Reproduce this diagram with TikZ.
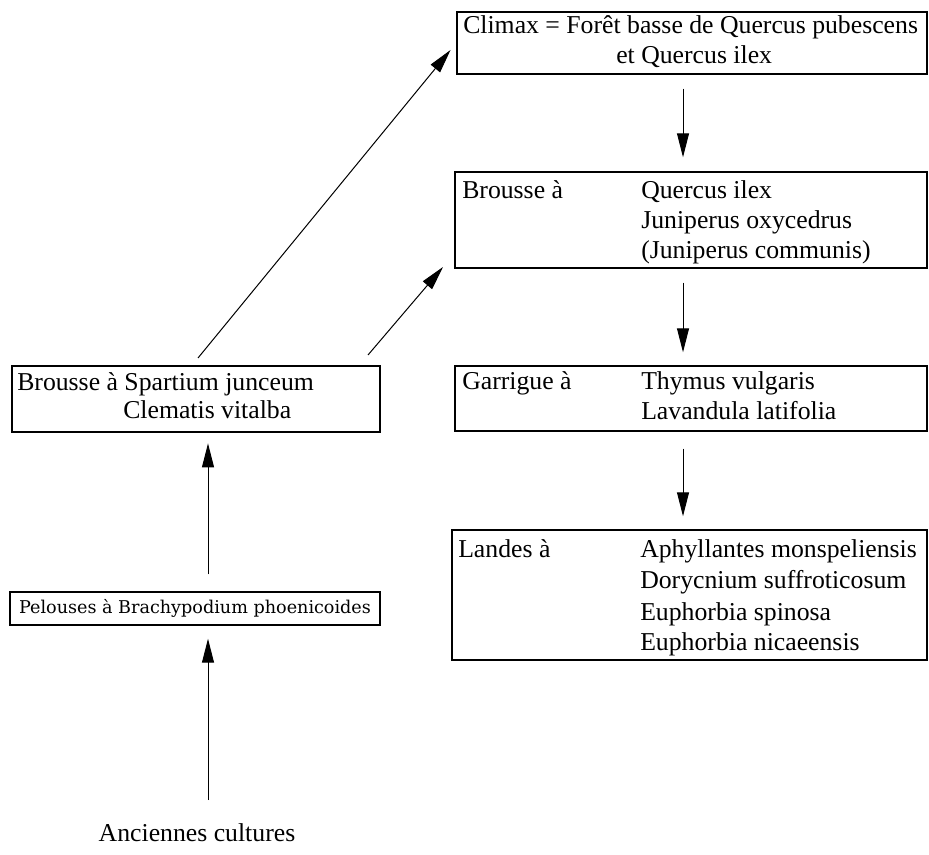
\documentclass[tikz,border=0pt]{standalone}
\usepackage{fontspec}
\setmainfont{Liberation Serif}
\newfontfamily\pelfont{DejaVu Serif}
\usetikzlibrary{arrows.meta}
\tikzset{
  box/.style={draw, line width=1.1pt, rectangle, inner sep=0pt},
  txt/.style={anchor=base west, inner sep=0pt, font=\fontsize{19.3}{23}\selectfont},
  arr/.style={line width=0.75pt, -{Triangle[length=18pt,width=9pt]}},
}
\begin{document}
\begin{tikzpicture}[x=0.75pt,y=-0.75pt]
\useasboundingbox (0,0) rectangle (929,855);
% boxes
\node[box, minimum width=352.5pt, minimum height=46.5pt] (climax) at (692,43) {};
\node[box, minimum width=354pt, minimum height=72pt] (bq) at (691,220) {};
\node[box, minimum width=354pt, minimum height=48.75pt] (garr) at (691,398.5) {};
\node[box, minimum width=356.25pt, minimum height=97.5pt] (landes) at (689.5,595) {};
\node[box, minimum width=276pt, minimum height=49.5pt] (spart) at (196,399) {};
\node[box, minimum width=277.5pt, minimum height=24.75pt, font=\pelfont\fontsize{13.2}{15}\selectfont] (pel) at (195,608.5) {Pelouses à Brachypodium phoenicoides};
% texts
\node[txt] (c1) at (463,34) {Climax = Forêt basse de Quercus pubescens};
\node[txt] (c2) at (616,64) {et Quercus ilex};
\node[txt] (b0) at (462,199) {Brousse à};
\node[txt] (b1) at (641,199) {Quercus ilex};
\node[txt] (b2) at (641,229) {Juniperus oxycedrus};
\node[txt] (b3) at (641,259) {(Juniperus communis)};
\node[txt] (g0) at (462,390) {Garrigue à};
\node[txt] (g1) at (641,390) {Thymus vulgaris};
\node[txt] (g2) at (641,420) {Lavandula latifolia};
\node[txt] (l0) at (458,558) {Landes à};
\node[txt] (l1) at (640,558) {Aphyllantes monspeliensis};
\node[txt] (l2) at (640,589) {Dorycnium suffroticosum};
\node[txt] (l3) at (640,620) {Euphorbia spinosa};
\node[txt] (l4) at (640,651) {Euphorbia nicaeensis};
\node[txt] (s1) at (17,391) {Brousse à Spartium junceum};
\node[txt] (s2) at (123,419) {Clematis vitalba};
\node[txt, anchor=base] (anc) at (197,841) {Anciennes cultures};
% helper coordinates
\coordinate (colR) at (683,0);
\coordinate (colL) at (208,0);
\coordinate (d1) at (198,358);
\coordinate (d2) at (368,355);
\coordinate (t2) at (443,267);
% connectors
\draw[arr, shorten <=10.5pt, shorten >=10.5pt] (climax.south -| colR) -- (bq.north -| colR);
\draw[arr, shorten <=10.5pt, shorten >=9.75pt] (bq.south -| colR) -- (garr.north -| colR);
\draw[arr, shorten <=12.75pt, shorten >=9.75pt] (garr.south -| colR) -- (landes.north -| colR);
\draw[arr, shorten >=6.75pt] (d1) -- (climax.west);
\draw[arr] (d2) -- (t2);
\draw[arr, shorten <=12.75pt, shorten >=8pt] (pel.north -| colL) -- (spart.south -| colL);
\draw[arr, shorten <=17pt, shorten >=9.75pt] (anc.north -| colL) -- (pel.south -| colL);
\end{tikzpicture}
\end{document}
